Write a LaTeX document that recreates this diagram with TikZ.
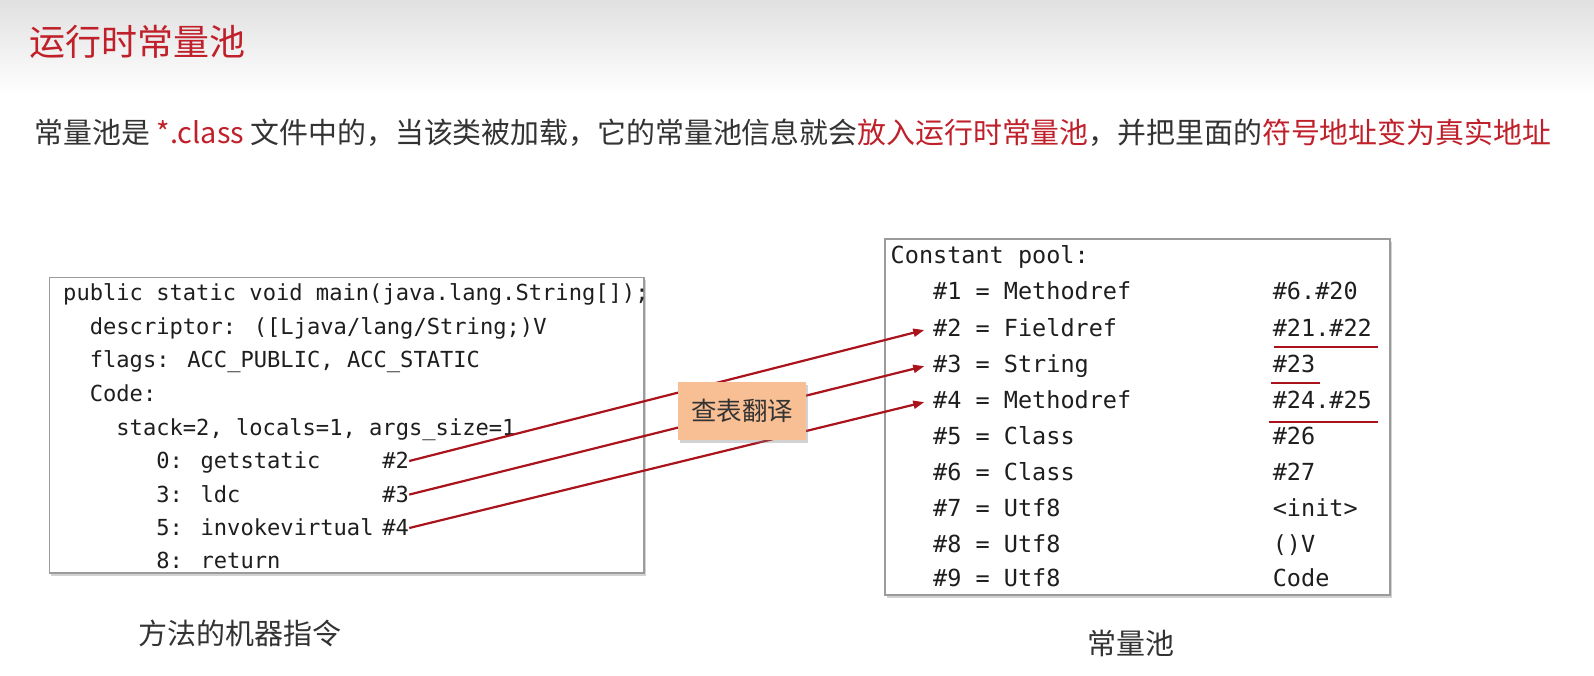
\documentclass[tikz,border=0pt]{standalone}
\usepackage{fontspec}
\newfontfamily\cjk{Noto Sans CJK SC}
\newfontfamily\cmono{DejaVu Sans Mono}
\usetikzlibrary{arrows.meta,shadows}
\definecolor{titlered}{RGB}{192,32,42}
\definecolor{txt}{RGB}{51,51,51}
\definecolor{codec}{RGB}{30,30,30}
\definecolor{arrowred}{RGB}{170,18,28}
\definecolor{peach}{RGB}{248,190,148}
\definecolor{framec}{RGB}{155,155,155}
\begin{document}
\begin{tikzpicture}[x=1pt,y=-1pt,
  lcode/.style={font=\cmono\fontsize{22.1}{26}\selectfont, text=codec, inner sep=0pt, anchor=west, text height=20.3pt, text depth=4.4pt},
  rcode/.style={font=\cmono\fontsize{23.5}{28}\selectfont, text=codec, inner sep=0pt, anchor=west, text height=21.6pt, text depth=4.7pt},
  codebox/.style={draw=framec, line width=1.3pt, fill=white, drop shadow={shadow xshift=1.5pt, shadow yshift=-2.5pt, opacity=0.35}},
  arr/.style={draw=arrowred, line width=2.2pt, -{Triangle[length=11pt,width=8pt]}, shorten >=9pt},
  uline/.style={draw=arrowred, line width=2.2pt},
  caplabel/.style={font=\cjk\fontsize{29}{34}\selectfont, text=txt, inner sep=0pt, anchor=base}
]
\useasboundingbox (0,0) rectangle (1594,675);
\fill[white] (0,0) rectangle (1594,675);
\shade[top color=black!12, bottom color=white] (0,0) rectangle (1594,95);

% title and subtitle
\node[font=\cjk\fontsize{36}{40}\selectfont, text=titlered, inner sep=0pt, anchor=base west] (title) at (29,55.7) {运行时常量池};
\node[font=\cjk\fontsize{28.9}{34}\selectfont, text=txt, inner sep=0pt, anchor=base west] (sub) at (34.5,143)
  {常量池是 {\color{titlered}*.class} 文件中的，当该类被加载，它的常量池信息就会{\color{titlered}放入运行时常量池}，并把里面的{\color{titlered}符号地址变为真实地址}};

% left box
\path[codebox] (49.3,277.7) rectangle (644,573);
\node[lcode] (l0) at (63,293) {public static void main(java.lang.String[]);};
\node[lcode] (l1) at (89.6,326.7) {descriptor: ([Ljava/lang/String;)V};
\node[lcode] (l2) at (89.6,359.8) {flags: ACC\_PUBLIC, ACC\_STATIC};
\node[lcode] (l3) at (89.6,393.8) {Code:};
\node[lcode] (l4) at (116.2,427.2) {stack=2, locals=1, args\_size=1};
\node[lcode] (l5) at (156.1,461) {0: getstatic};
\node[lcode] (h2) at (382.2,461) {\#2};
\node[lcode] (l6) at (156.1,494.6) {3: ldc};
\node[lcode] (h3) at (382.2,494.6) {\#3};
\node[lcode] (l7) at (156.1,528) {5: invokevirtual};
\node[lcode] (h4) at (382.2,528) {\#4};
\node[lcode] (l8) at (156.1,560.5) {8: return};

% right box
\path[codebox] (885,239) rectangle (1390,595);
\node[rcode] (r0) at (890.5,255) {Constant pool:};
\node[rcode] (r1) at (933,291.5) {\#1 = Methodref};
\node[rcode] (v1) at (1272.6,291.5) {\#6.\#20};
\node[rcode] (r2) at (933,327.8) {\#2 = Fieldref};
\node[rcode] (v2) at (1272.6,327.8) {\#21.\#22};
\node[rcode] (r3) at (933,364) {\#3 = String};
\node[rcode] (v3) at (1272.6,364) {\#23};
\node[rcode] (r4) at (933,400) {\#4 = Methodref};
\node[rcode] (v4) at (1272.6,400) {\#24.\#25};
\node[rcode] (r5) at (933,436.3) {\#5 = Class};
\node[rcode] (v5) at (1272.6,436.3) {\#26};
\node[rcode] (r6) at (933,472) {\#6 = Class};
\node[rcode] (v6) at (1272.6,472) {\#27};
\node[rcode] (r7) at (933,508) {\#7 = Utf8};
\node[rcode] (v7) at (1272.6,508) {<init>};
\node[rcode] (r8) at (933,544.5) {\#8 = Utf8};
\node[rcode] (v8) at (1272.6,544.5) {()V};
\node[rcode] (r9) at (933,578.5) {\#9 = Utf8};
\node[rcode] (v9) at (1272.6,578.5) {Code};

% underlines
\draw[uline] (1274,347) -- (1378,347);
\draw[uline] (1271,383) -- (1320,383);
\draw[uline] (1269,422) -- (1378,422);

% arrows
\draw[arr] (h2.east) -- (r2.west);
\draw[arr] (h3.east) -- (r3.west);
\draw[arr] (h4.east) -- (r4.west);

% translation box
\node[fill=peach, minimum width=128pt, minimum height=58pt, inner sep=0pt,
      drop shadow={shadow xshift=1.5pt, shadow yshift=-2.5pt, opacity=0.35},
      font=\cjk\fontsize{25.5}{30}\selectfont, text=txt, text height=21pt, text depth=1.8pt] (tr) at (742,411) {查表翻译};

% captions
\node[caplabel] (c1) at (240.3,644) {方法的机器指令};
\node[caplabel] (c2) at (1131,654) {常量池};
\end{tikzpicture}
\end{document}
